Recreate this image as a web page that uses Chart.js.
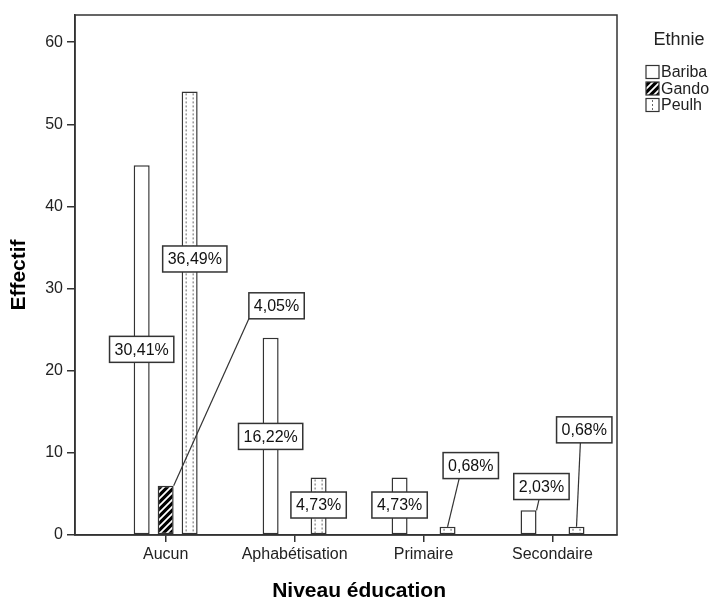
<!DOCTYPE html>
<html>
<head>
<meta charset="utf-8">
<script src="https://cdn.jsdelivr.net/npm/chart.js@4"></script>
<style>
  body { margin: 0; background: #fff; }
</style>
</head>
<body>
<canvas id="chart" width="713" height="601"></canvas>
<script>
const categories = ['Aucun', 'Aphabétisation', 'Primaire', 'Secondaire'];
const groups = ['Bariba', 'Gando', 'Peulh'];
const bariba = [45, 24, 7, 3];
const gando = [6, 0, 0, 0];
const peulh = [54, 7, 1, 1];
const yTicks = [0, 10, 20, 30, 40, 50, 60];

// where SPSS put the % boxes: shift in categories, height in axis units
const labelDx = [[0, 0, 0, 0.1], [0.86, 0, 0, 0], [0.04, 0, 0.18, 0.06]];
const labelY = [[22.6, 12, 3.65, 5.9], [27.9, 0, 0, 0], [33.6, 3.65, 8.45, 12.8]];
const leaders = [[null, null, null, 'right'], ['right', null, null, null], [null, null, 'center', 'center']];

const FONT = '"Liberation Sans", Arial, sans-serif';
const INK = '#333';
Chart.defaults.font.family = FONT;
Chart.defaults.color = '#222';

const ctx = document.getElementById('chart').getContext('2d');

function hatchPattern() {
    const c = document.createElement('canvas');
    c.width = 7; c.height = 7;
    const g = c.getContext('2d');
    g.fillStyle = '#000';
    g.fillRect(0, 0, 7, 7);
    g.strokeStyle = '#fff';
    g.lineWidth = 1.8;
    g.beginPath();
    g.moveTo(-1, 8); g.lineTo(8, -1);
    g.moveTo(-1, 1); g.lineTo(1, -1);
    g.moveTo(6, 8); g.lineTo(8, 6);
    g.stroke();
    return ctx.createPattern(c, 'repeat');
}

const series = [bariba, gando, peulh];
const fills = ['#fff', hatchPattern(), '#fff'];
const total = series.flat().reduce((a, b) => a + b, 0);

function dottedLine(g, x, y1, y2) {
    g.save();
    g.strokeStyle = '#666';
    g.lineWidth = 1;
    g.setLineDash([2, 2]);
    g.beginPath();
    g.moveTo(x, y1);
    g.lineTo(x, y2);
    g.stroke();
    g.restore();
}

const extras = {
    id: 'extras',
    beforeDatasetsDraw(chart) {
        const a = chart.chartArea, g = chart.ctx;
        g.save();
        g.strokeStyle = INK;
        g.lineWidth = 1.5;
        g.strokeRect(a.left, a.top, a.right - a.left, a.bottom - a.top);
        g.restore();
    },
    afterDatasetsDraw(chart) {
        const g = chart.ctx;
        const xs = chart.scales.x, ys = chart.scales.y;
        const catPx = xs.getPixelForValue(1) - xs.getPixelForValue(0);

        // Peulh dots
        chart.getDatasetMeta(2).data.forEach(el => {
            if (el.base - el.y < 2) return;
            dottedLine(g, el.x - 3.5, el.y + 2, el.base - 1);
            dottedLine(g, el.x + 3.5, el.y + 2, el.base - 1);
        });

        // percentage boxes
        g.save();
        g.font = '16px ' + FONT;
        g.textAlign = 'center';
        g.textBaseline = 'middle';
        series.forEach((vals, d) => {
            const meta = chart.getDatasetMeta(d);
            vals.forEach((v, i) => {
                if (!v) return;
                const el = meta.data[i];
                const text = (v / total * 100).toFixed(2).replace('.', ',') + '%';
                const w = g.measureText(text).width + 10, h = 26;
                const cx = el.x + labelDx[d][i] * catPx;
                const cy = ys.getPixelForValue(labelY[d][i]);
                const left = cx - w / 2, bottom = cy + h / 2;
                if (leaders[d][i]) {
                    const sx = el.x + (leaders[d][i] === 'right' ? el.width / 2 : 0);
                    const ex = Math.min(Math.max((sx + cx) / 2, left), left + w);
                    g.strokeStyle = INK;
                    g.lineWidth = 1.2;
                    g.beginPath();
                    g.moveTo(sx, el.y);
                    g.lineTo(ex, bottom);
                    g.stroke();
                }
                g.fillStyle = '#fff';
                g.fillRect(left, cy - h / 2, w, h);
                g.strokeStyle = INK;
                g.lineWidth = 1.5;
                g.strokeRect(left, cy - h / 2, w, h);
                g.fillStyle = '#111';
                g.fillText(text, cx, cy + 1);
            });
        });
        g.restore();
    },
    afterDraw(chart) {
        const g = chart.ctx, xs = chart.scales.x;
        g.save();
        // x title, centred under the categories
        g.font = 'bold 21px ' + FONT;
        g.fillStyle = '#000';
        g.textAlign = 'center';
        g.textBaseline = 'middle';
        const mid = (xs.getPixelForValue(0) + xs.getPixelForValue(categories.length - 1)) / 2;
        g.fillText('Niveau éducation', mid, 591);

        // legend
        g.font = '18px ' + FONT;
        g.fillStyle = '#222';
        g.fillText('Ethnie', 679, 40);
        g.font = '16px ' + FONT;
        g.textAlign = 'left';
        groups.forEach((name, d) => {
            const cy = 72 + d * 16.5;
            g.fillStyle = fills[d];
            g.fillRect(646, cy - 6.5, 13, 13);
            g.strokeStyle = INK;
            g.lineWidth = 1.2;
            g.strokeRect(646, cy - 6.5, 13, 13);
            if (d === 2) dottedLine(g, 652.5, cy - 5, cy + 6);
            g.fillStyle = '#222';
            g.fillText(name, 661, cy + 1);
        });
        g.restore();
    }
};

new Chart(ctx, {
    type: 'bar',
    data: {
        datasets: series.map((vals, d) => ({
            label: groups[d],
            data: vals.map((v, i) => ({ x: i, y: v })),
            backgroundColor: fills[d],
            borderColor: INK,
            borderWidth: 1.5,
            borderSkipped: false
        }))
    },
    options: {
        responsive: false,
        animation: false,
        layout: { padding: { top: 15, right: 96, left: 0, bottom: 0 } },
        datasets: { bar: { categoryPercentage: 0.558, barPercentage: 0.667 } },
        plugins: {
            legend: { display: false },
            tooltip: { enabled: false }
        },
        scales: {
            x: {
                type: 'linear',
                min: -0.703,
                max: 3.5,
                offset: false,
                afterBuildTicks: s => { s.ticks = categories.map((c, i) => ({ value: i })); },
                afterFit: s => { s.height = 66; },
                ticks: {
                    callback: v => categories[v],
                    font: { size: 16 },
                    padding: 3,
                    autoSkip: false,
                    maxRotation: 0
                },
                grid: { offset: false, drawOnChartArea: false, tickLength: 7, color: INK, lineWidth: 1.5 },
                border: { color: INK, width: 1.5 }
            },
            y: {
                min: 0,
                max: 63.3,
                afterBuildTicks: s => { s.ticks = yTicks.map(v => ({ value: v })); },
                afterFit: s => { s.width = 75; },
                ticks: { font: { size: 16 }, padding: 4 },
                grid: { drawOnChartArea: false, tickLength: 8, color: INK, lineWidth: 1.5 },
                border: { color: INK, width: 1.5 },
                title: {
                    display: true,
                    text: 'Effectif',
                    color: '#000',
                    font: { size: 21, weight: 'bold' },
                    padding: { top: 7, bottom: 0 }
                }
            }
        }
    },
    plugins: [extras]
});
</script>
</body>
</html>
